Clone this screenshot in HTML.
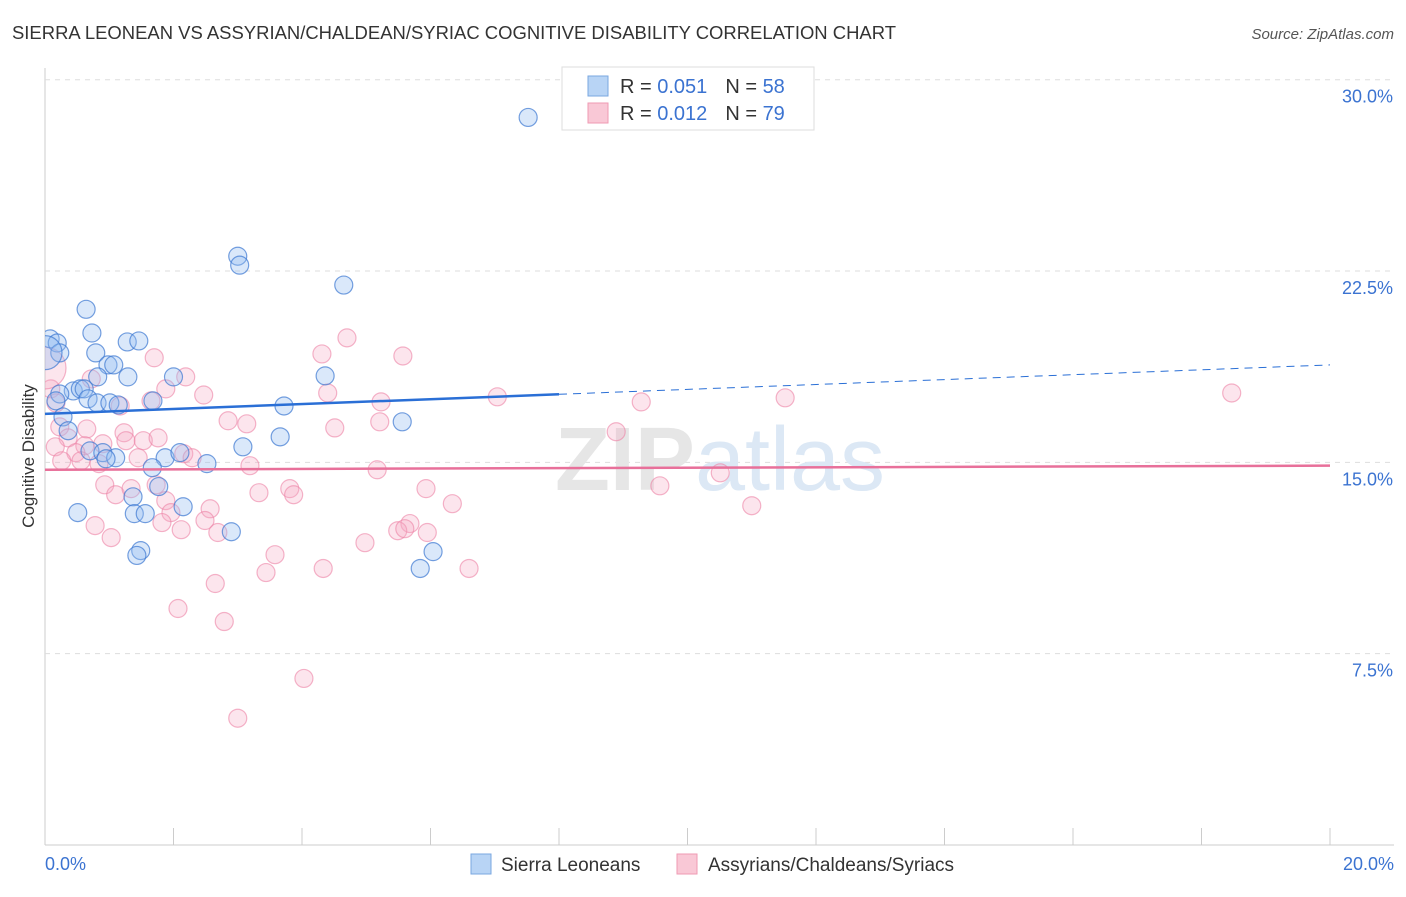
<!DOCTYPE html>
<html><head><meta charset="utf-8">
<style>
body{margin:0;background:#fff;font-family:"Liberation Sans",sans-serif;}
svg text{font-family:"Liberation Sans",sans-serif;}
</style></head>
<body>
<svg id="chart" width="1406" height="892" xmlns="http://www.w3.org/2000/svg">
<defs><clipPath id="plotclip"><rect x="45" y="60" width="1360" height="785"/></clipPath></defs>
<text x="12" y="39" font-size="18" fill="#333" textLength="884" lengthAdjust="spacingAndGlyphs">SIERRA LEONEAN VS ASSYRIAN/CHALDEAN/SYRIAC COGNITIVE DISABILITY CORRELATION CHART</text>
<text x="1394" y="39" font-size="15" fill="#555" text-anchor="end" font-style="italic">Source: ZipAtlas.com</text>
<g id="grid"></g>
<text x="720" y="490" font-size="90" text-anchor="middle" fill="#e6e6e6" font-family="Liberation Serif" font-weight="bold">ZIP<tspan fill="#dce8f5" font-family="Liberation Sans" font-weight="normal">atlas</tspan></text>
<g id="points" clip-path="url(#plotclip)"></g>
<g id="trends"></g>
<text transform="translate(34,456) rotate(-90)" font-size="17" fill="#333" text-anchor="middle">Cognitive Disability</text>
<g>
<rect x="562" y="67" width="252" height="63" fill="#fff" stroke="#ddd"/>
<rect x="588" y="76" width="20" height="20" fill="#b8d4f5" stroke="#7aa7e0"/>
<rect x="588" y="103" width="20" height="20" fill="#f9c8d6" stroke="#ef9ab3"/>
<text x="620" y="93" font-size="20" fill="#333">R = <tspan fill="#3b73d1">0.051</tspan><tspan dx="18">N = </tspan><tspan fill="#3b73d1">58</tspan></text>
<text x="620" y="120" font-size="20" fill="#333">R = <tspan fill="#3b73d1">0.012</tspan><tspan dx="18">N = </tspan><tspan fill="#3b73d1">79</tspan></text>
</g>
<g>
<rect x="471" y="854" width="20" height="20" fill="#b8d4f5" stroke="#7aa7e0"/>
<text x="501" y="871" font-size="19" fill="#333">Sierra Leoneans</text>
<rect x="677" y="854" width="20" height="20" fill="#f9c8d6" stroke="#ef9ab3"/>
<text x="708" y="871" font-size="19" fill="#333">Assyrians/Chaldeans/Syriacs</text>
</g>
</svg>
<script>
const yTicks=[7.5,15,22.5,30];
const yTickLabels=["7.5%","15.0%","22.5%","30.0%"];
const xTickLabels=["0.0%","20.0%"];
const blueX=[7.52,3.0,3.03,4.65,0.64,0.08,0.19,0.23,0.73,0.79,1.28,1.46,0.98,1.07,0.82,1.29,2.0,4.36,0.44,0.55,0.61,0.23,0.67,0.81,1.01,1.14,1.68,0.17,3.72,0.28,5.56,0.36,3.66,3.08,0.7,0.9,1.1,0.95,1.87,2.1,2.52,1.67,1.77,1.37,2.15,0.51,1.39,1.56,2.9,1.49,1.43,6.04,5.84,0.0];
const blueY=[28.52,23.08,22.73,21.95,21.0,19.84,19.68,19.29,20.07,19.29,19.72,19.76,18.82,18.82,18.35,18.35,18.35,18.39,17.8,17.88,17.88,17.68,17.49,17.33,17.33,17.25,17.41,17.41,17.21,16.78,16.59,16.24,16.0,15.61,15.45,15.38,15.18,15.14,15.18,15.38,14.95,14.79,14.05,13.65,13.26,13.03,12.99,12.99,12.28,11.54,11.35,11.5,10.84,19.3];
const pinkX=[4.7,4.31,5.57,1.7,2.19,0.72,0.09,1.88,2.47,4.4,7.04,9.28,11.52,18.47,1.17,1.65,5.23,0.17,2.85,3.14,4.51,5.21,8.89,0.23,0.65,1.23,0.36,1.26,1.53,1.76,0.9,0.62,0.16,0.48,2.16,2.29,1.45,0.26,0.56,0.84,3.19,5.17,10.51,9.57,0.93,1.73,3.81,3.33,3.87,5.93,1.1,1.34,6.34,1.88,2.57,11.0,1.96,1.82,2.49,0.78,2.12,2.69,5.68,5.49,5.6,5.95,1.03,4.98,3.58,3.44,4.33,6.6,2.65,2.07,2.79,4.03,3.0,0.0];
const pinkY=[19.88,19.25,19.17,19.1,18.35,18.27,17.88,17.88,17.64,17.72,17.57,17.37,17.53,17.72,17.21,17.41,17.37,17.33,16.63,16.51,16.35,16.59,16.2,16.39,16.31,16.16,15.96,15.85,15.85,15.96,15.73,15.65,15.61,15.38,15.34,15.18,15.18,15.06,15.06,14.95,14.87,14.71,14.59,14.08,14.12,14.12,13.97,13.81,13.73,13.97,13.73,13.97,13.38,13.5,13.18,13.3,13.03,12.64,12.72,12.52,12.36,12.25,12.6,12.32,12.4,12.25,12.05,11.85,11.38,10.68,10.84,10.84,10.25,9.27,8.76,6.53,4.97,18.7];
const blueTrend=[16.9,18.82];
const pinkTrend=[14.71,14.87];
const NS="http://www.w3.org/2000/svg";
const xs=v=>45+v*64.25;
const ys=v=>845-v*25.51;
function mk(tag,attrs,parent){const e=document.createElementNS(NS,tag);for(const k in attrs)e.setAttribute(k,attrs[k]);parent.appendChild(e);return e;}
const grid=document.getElementById('grid');
let ax=mk('line',{x1:45,y1:68,x2:45,y2:845,stroke:'#ccc'},grid);


let bx=mk('line',{x1:45,y1:845,x2:1394,y2:845,stroke:'#ccc'},grid);


for(let i=0;i<=10;i++){
  let t=mk('line',{x1:xs(i*2),y1:828,x2:xs(i*2),y2:845,stroke:'#ccc'},grid);
  
  
}
yTicks.forEach((v,i)=>{
  let g=mk('line',{x1:45,y1:ys(v),x2:1394,y2:ys(v),stroke:'#ddd','stroke-dasharray':'5,5'},grid);
  
  
  let t=mk('text',{x:1393,y:ys(v)+23,'font-size':18,fill:'#3b73d1','text-anchor':'end'},grid);
  t.textContent=yTickLabels[i];
  
  
});
let xl0=mk('text',{x:45,y:870,'font-size':18,fill:'#3b73d1'},grid);xl0.textContent=xTickLabels[0];


let xl1=mk('text',{x:1394,y:870,'font-size':18,fill:'#3b73d1','text-anchor':'end'},grid);xl1.textContent=xTickLabels[1];


const pts=document.getElementById('points');
pinkX.forEach((x,i)=>{
  const big=i===pinkX.length-1;
  let c=mk('circle',{cx:xs(x),cy:ys(pinkY[i]),r:big?21:9,fill:'rgba(246,170,195,0.3)',stroke:'rgba(236,130,165,0.6)','stroke-width':1.2},pts);
  
  
});
blueX.forEach((x,i)=>{
  const big=i===blueX.length-1;
  let c=mk('circle',{cx:xs(x),cy:ys(blueY[i]),r:big?17:9,fill:'rgba(150,190,240,0.35)',stroke:'rgba(60,120,210,0.7)','stroke-width':1.2},pts);
  
  
});
const tr=document.getElementById('trends');
const bAt=x=>blueTrend[0]+(blueTrend[1]-blueTrend[0])*x/20;
let bl=mk('line',{x1:xs(0),y1:ys(bAt(0)),x2:xs(8),y2:ys(bAt(8)),stroke:'#2a6fd6','stroke-width':2.5},tr);


let bd=mk('line',{x1:xs(8),y1:ys(bAt(8)),x2:xs(20),y2:ys(bAt(20)),stroke:'#2a6fd6','stroke-width':1,'stroke-dasharray':'8,6'},tr);


let pl=mk('line',{x1:xs(0),y1:ys(pinkTrend[0]),x2:xs(20),y2:ys(pinkTrend[1]),stroke:'#e8709a','stroke-width':2.5},tr);


</script>
</body></html>
